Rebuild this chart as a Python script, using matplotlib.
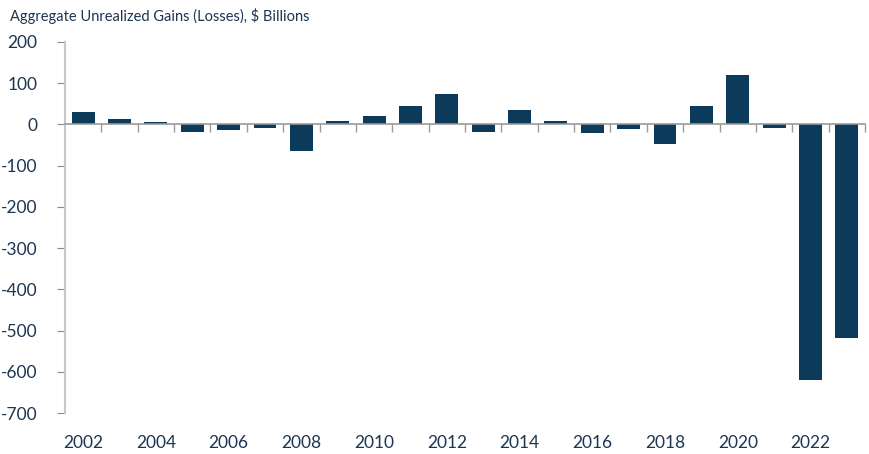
import matplotlib.pyplot as plt
from matplotlib import transforms

years = list(range(2002, 2024))
gains = [29, 13, 5, -19, -14, -9, -65, 8, 20, 44, 73, -18, 35, 8, -20, -11, -48, 44, 119, -9, -620, -518]
y_ticks = [200, 100, 0, -100, -200, -300, -400, -500, -600, -700]
title = "Aggregate Unrealized Gains (Losses), $ Billions"

bar_color = "#0b3a5b"
text_color = "#1c3553"
axis_color = "#c8c8c8"
tick_color = "#8a8a8a"

plt.rcParams["font.family"] = ["Lato", "DejaVu Sans"]

fig = plt.figure(figsize=(8.7, 4.54), dpi=100)
ax = fig.add_axes([65 / 870, 1 - 413 / 454, 800 / 870, 371 / 454])

x = list(range(len(years)))
ax.bar(x, gains, width=0.63, color=bar_color, zorder=2)

ax.set_xlim(-0.5, len(years) - 0.5)
ax.set_ylim(-700, 200)
ax.set_yticks(y_ticks)
ax.set_yticklabels([str(v) for v in y_ticks])

for side in ["top", "right"]:
    ax.spines[side].set_visible(False)
ax.spines["left"].set_color(axis_color)
ax.spines["left"].set_linewidth(1.5)
ax.spines["bottom"].set_position(("data", 0))
ax.spines["bottom"].set_color("#999999")
ax.spines["bottom"].set_linewidth(1.2)
ax.spines["bottom"].set_zorder(3)

ax.set_xticks([i + 0.5 for i in range(len(years))])
ax.set_xticklabels([])
ax.tick_params(axis="x", direction="out", length=6, color="#999999", width=1)
ax.tick_params(axis="y", direction="out", length=6, color=tick_color, width=0.8,
               labelsize=12.5, labelcolor=text_color, pad=14)

trans = transforms.blended_transform_factory(ax.transData, ax.transAxes)
for i, yr in enumerate(years):
    if yr % 2 == 0:
        ax.text(i, -0.08, str(yr), transform=trans, ha="center", va="center",
                fontsize=12.5, color=text_color)

fig.text(10 / 870, 1 - 16 / 454, title, ha="left", va="center", fontsize=10.5, color=text_color)

fig.savefig("out.png", dpi=100)
